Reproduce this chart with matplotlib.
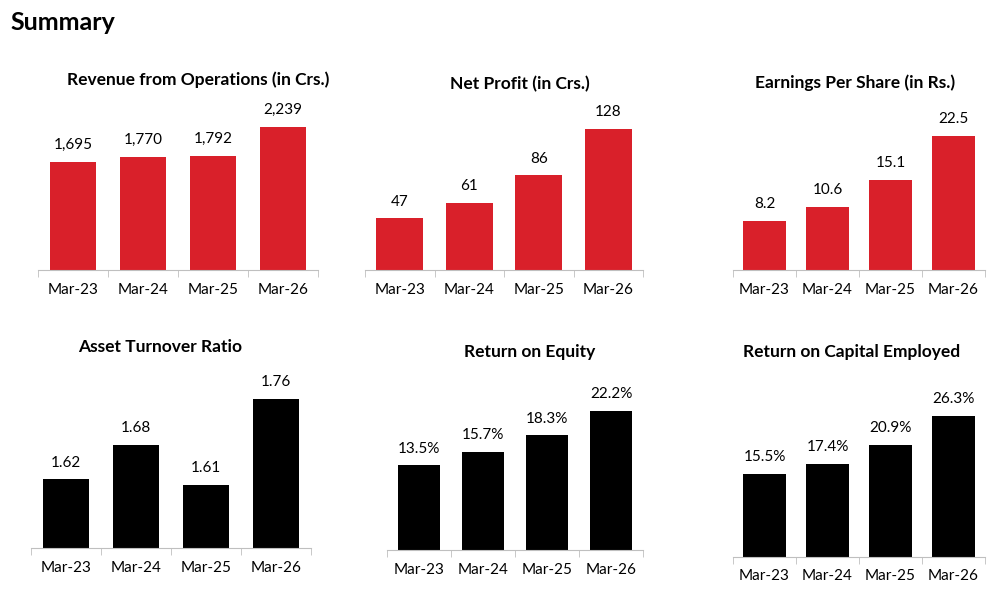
import matplotlib.pyplot as plt

plt.rcParams['font.family'] = ['Lato', 'DejaVu Sans']

years = ['Mar-23', 'Mar-24', 'Mar-25', 'Mar-26']
revenue = [1695, 1770, 1792, 2239]
net_profit = [47, 61, 86, 128]
eps = [8.2, 10.6, 15.1, 22.5]
asset_turnover = [1.62, 1.68, 1.61, 1.76]
roe = [13.5, 15.7, 18.3, 22.2]
roce = [15.5, 17.4, 20.9, 26.3]

W, H = 996, 605
RED = '#d9202a'

# (title, values, labels, colour, left, width, baseline, maxbar_top_px, ymin, title_x, title_y)
panels = [
    ('Revenue from Operations (in Crs.)', revenue, [f'{v:,}' for v in revenue], RED, 38, 280, 270, 127, 0, 198, 80),
    ('Net Profit (in Crs.)', net_profit, [str(v) for v in net_profit], RED, 365, 278, 270, 129, 0, 520, 84),
    ('Earnings Per Share (in Rs.)', eps, [f'{v:.1f}' for v in eps], RED, 733, 252, 270, 136, 0, 855, 83),
    ('Asset Turnover Ratio', asset_turnover, [f'{v:.2f}' for v in asset_turnover], 'black', 31, 280, 548, 399, 1.5, 160, 347),
    ('Return on Equity', roe, [f'{v:.1f}%' for v in roe], 'black', 387, 256, 550, 411, 0, 530, 352),
    ('Return on Capital Employed', roce, [f'{v:.1f}%' for v in roce], 'black', 733, 252, 557, 416, 0, 852, 352),
]

fig = plt.figure(figsize=(W / 100, H / 100), dpi=100)
fig.text(10 / W, 1 - 22 / H, 'Summary', fontsize=18, fontweight='bold', va='center')

for title, vals, labels, col, left, width, base, top_px, lo, tx, ty in panels:
    ax_h = 150
    ax = fig.add_axes([left / W, 1 - base / H, width / W, ax_h / H])
    hi = lo + (max(vals) - lo) * ax_h / (base - top_px)
    x = range(len(vals))
    ax.bar(x, [v - lo for v in vals], bottom=lo, width=0.67, color=col)
    ax.set_ylim(lo, hi)
    ax.set_xlim(-0.5, len(vals) - 0.5)
    for i, (v, lab) in enumerate(zip(vals, labels)):
        ax.annotate(lab, (i, v), xytext=(0, 7), textcoords='offset points',
                    ha='center', va='bottom', fontsize=11)
    for s in ['top', 'right', 'left']:
        ax.spines[s].set_visible(False)
    ax.spines['bottom'].set_color('#bfbfbf')
    ax.set_yticks([])
    ax.set_xticks(list(x))
    ax.set_xticklabels(years, fontsize=11)
    ax.tick_params(axis='x', length=0, pad=9)
    ax.set_xticks([i + 0.5 for i in range(-1, len(vals))], minor=True)
    ax.tick_params(axis='x', which='minor', length=5, color='#bfbfbf')
    fig.text(tx / W, 1 - ty / H, title, fontsize=12.5, fontweight='bold', ha='center', va='center')

fig.savefig('out.png', dpi=100)
